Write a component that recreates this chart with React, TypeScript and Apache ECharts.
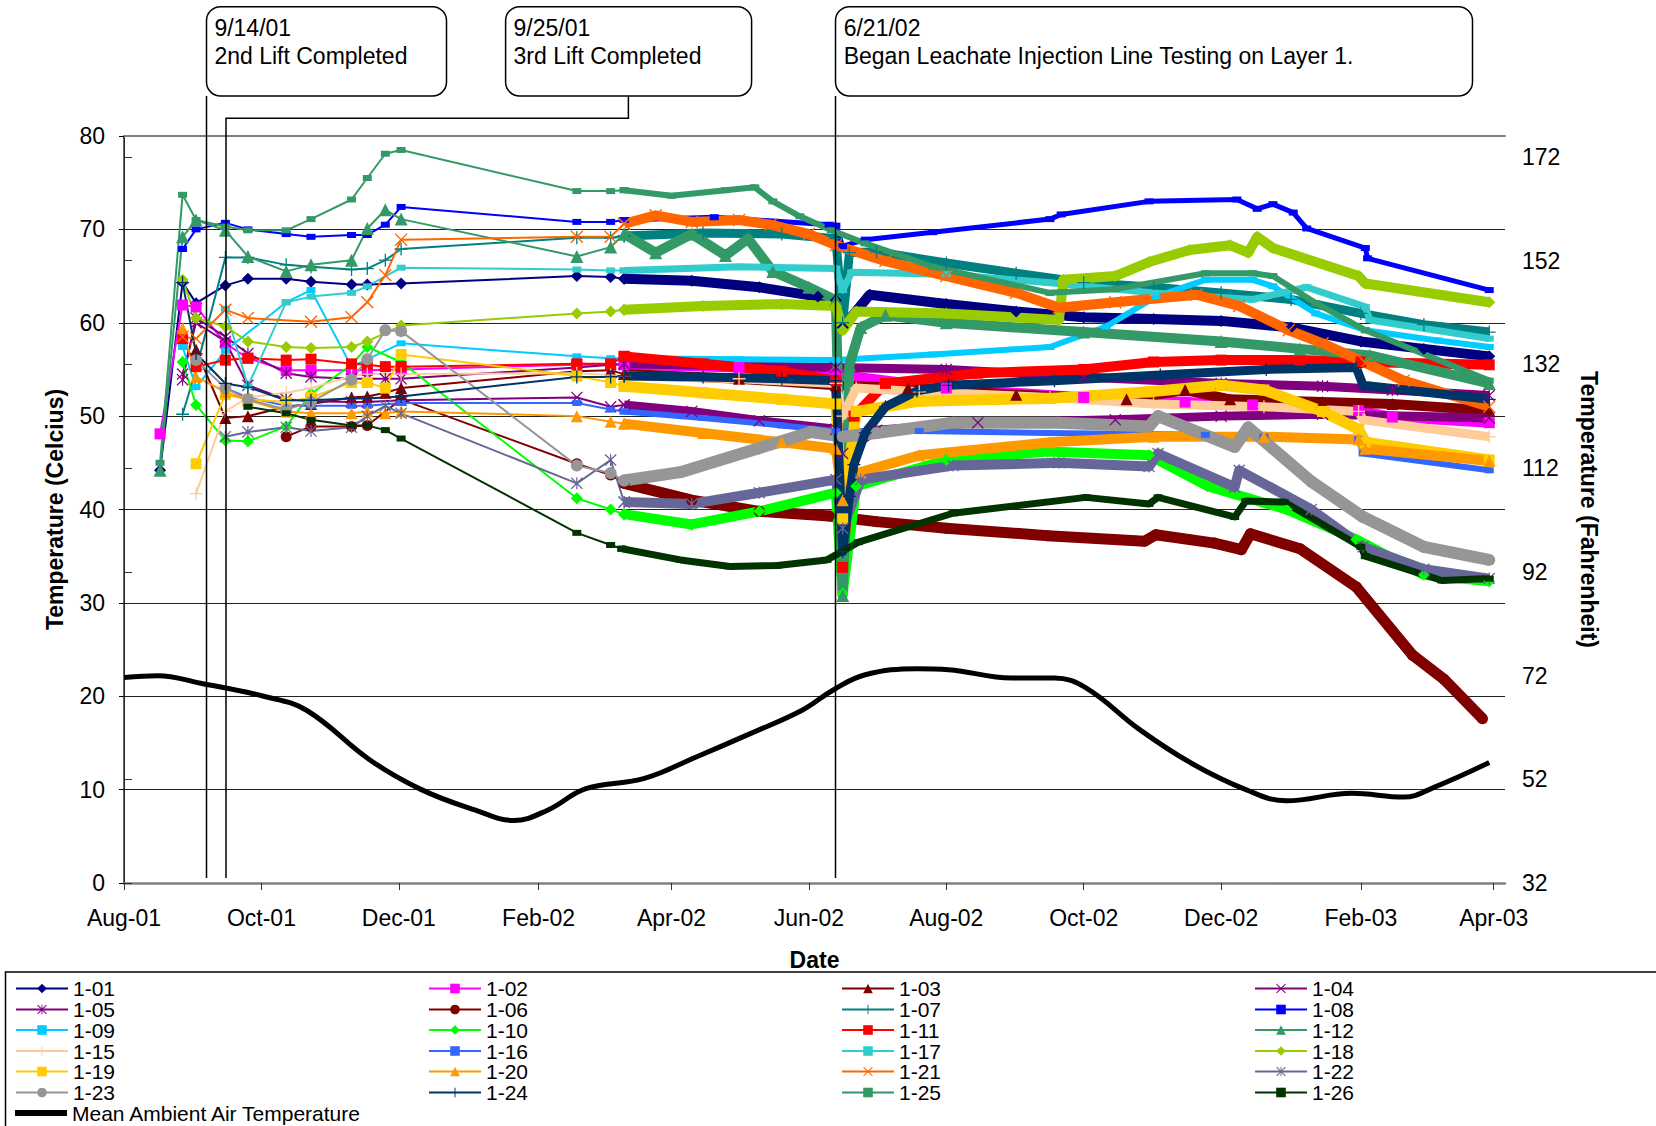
import React, { useEffect, useRef } from 'react';
import * as echarts from 'echarts';

const START = '2001-08-01';
const tickDates = ['2001-08-01', '2001-10-01', '2001-12-01', '2002-02-01', '2002-04-01', '2002-06-01', '2002-08-01', '2002-10-01', '2002-12-01', '2003-02-01', '2003-04-01'];
const tickLabels = ['Aug-01', 'Oct-01', 'Dec-01', 'Feb-02', 'Apr-02', 'Jun-02', 'Aug-02', 'Oct-02', 'Dec-02', 'Feb-03', 'Apr-03'];
const fahrenheitTicks = [32, 52, 72, 92, 112, 132, 152, 172];

// dates of the early (sparse) readings
const earlyDates = ['2001-08-17', '2001-08-27', '2001-09-02', '2001-09-15', '2001-09-25', '2001-10-12', '2001-10-23', '2001-11-10', '2001-11-17', '2001-11-25', '2001-12-02', '2002-02-18', '2002-03-05'];

const e101 = [44.2, 64.3, 62.1, 64.0, 64.7, 64.7, 64.4, 64.1, 64.1, null, 64.2, 65.0, 64.9];
const e102 = [48.1, 61.9, 61.7, 57.8, 56.2, 54.9, 54.9, 54.9, 54.9, null, 55.0, 55.5, 55.5];
const e103 = [null, null, 57.1, 49.8, 50.0, 51.0, 51.3, 52.0, 52.1, 52.5, 53.0, 54.8, 54.9];
const e104 = [null, 54.5, 60.0, 58.0, 53.3, 51.8, 51.6, 51.5, 51.5, null, 51.7, 52.0, 51.0];
const e105 = [null, 53.9, 60.5, 58.5, 56.7, 54.6, 54.2, 54.0, 54.0, 54.0, 54.0, 55.2, 55.5];
const e106 = [null, null, null, null, null, 47.8, 48.9, 48.9, 49.0, null, 51.8, 44.9, 43.7];
const e107 = [null, 50.2, 55.0, 67.0, 67.0, 66.2, 66.0, 65.7, 65.8, 66.7, 67.9, 69.1, 69.1];
const e108 = [null, 67.9, 70.0, 70.7, 70.0, 69.5, 69.2, 69.4, 69.4, 70.5, 72.4, 70.8, 70.8];
const e109 = [null, 57.4, 53.1, 57.0, null, 62.2, 63.5, 55.3, null, null, 57.8, 56.4, 56.2];
const e110 = [null, 55.8, 51.2, 47.4, 47.3, 48.9, 52.4, 55.5, 57.4, null, 55.8, 41.2, 40.0];
const e111 = [null, 58.3, 55.3, 56.0, 56.2, 56.0, 56.1, 55.6, 55.5, 55.3, 55.3, 55.6, 55.6];
const e112 = [44.2, 69.2, 71.0, 69.9, 67.1, 65.5, 66.2, 66.7, 70.1, 72.1, 71.1, 67.1, 68.1];
const e115 = [null, null, 41.7, 50.5, 52.0, 52.5, 53.0, 54.3, 54.5, null, 54.5, 54.6, 54.4];
const e116 = [null, null, null, 53.0, 52.0, 51.1, 51.1, 51.1, 51.1, null, 51.4, 51.4, 50.7];
const e117 = [null, null, null, 61.5, 53.2, 62.2, 62.8, 63.2, 63.9, null, 65.9, 65.7, 65.6];
const e118 = [null, 64.6, 60.5, 59.6, 58.0, 57.4, 57.3, 57.4, 58.0, null, 59.7, 61.0, 61.2];
const e119 = [null, null, 44.9, 52.3, 51.8, 51.5, 52.0, 53.6, 53.6, 53.0, 56.6, 54.3, 53.6];
const e120 = [null, 59.4, 54.2, 52.6, 51.7, 50.5, 50.3, 50.3, 50.5, 50.3, 50.5, 50.0, 49.4];
const e121 = [null, 58.5, 58.3, 61.4, 60.5, null, 60.1, 60.6, 62.2, 65.1, 68.9, 69.2, 69.2];
const e122 = [null, null, null, 47.8, 48.3, 48.8, 48.4, 48.8, 50.0, 51.1, 50.3, 42.8, 45.3];
const e123 = [null, null, 56.0, 53.0, 51.8, 50.7, 51.5, 53.9, 56.1, 59.2, 59.1, 44.7, 43.9];
const e124 = [null, 64.3, 56.7, 53.5, 53.1, 51.7, 51.7, 51.9, 51.9, null, 52.1, 54.2, 54.2];
const e125 = [45.0, 73.7, 71.0, 70.3, 69.9, 69.9, 71.1, 73.2, 75.5, 78.1, 78.5, 74.1, 74.1];
const e126 = [null, null, null, null, 51.0, 50.3, 49.6, 49.0, 49.0, 48.5, 47.6, 37.5, 36.2];

// continuous logger period (key readings)
const d101 = [['2002-03-11', 64.7], ['2002-04-10', 64.5], ['2002-05-10', 63.8], ['2002-06-05', 62.8], ['2002-06-13', 62.4], ['2002-06-16', 59.5], ['2002-06-28', 63.0], ['2002-08-01', 62.0], ['2002-09-01', 61.2], ['2002-10-01', 60.6], ['2002-11-01', 60.4], ['2002-12-01', 60.2], ['2003-01-01', 59.5], ['2003-02-01', 58.0], ['2003-03-01', 57.2], ['2003-03-30', 56.4]];
const d102 = [['2002-03-11', 55.5], ['2002-05-01', 55.2], ['2002-06-13', 54.5], ['2002-08-01', 53.0], ['2002-10-01', 52.0], ['2002-11-15', 51.5], ['2002-12-15', 51.2], ['2003-01-31', 50.6], ['2003-02-15', 49.9], ['2003-03-30', 49.3]];
const d103 = [['2002-03-11', 54.5], ['2002-05-01', 54.0], ['2002-06-13', 53.3], ['2002-07-15', 53.0], ['2002-09-01', 52.3], ['2002-10-20', 51.8], ['2002-11-15', 52.8], ['2002-12-05', 51.8], ['2003-01-15', 51.5], ['2003-02-15', 51.3], ['2003-03-30', 50.6]];
const d104 = [['2002-03-11', 51.2], ['2002-04-10', 50.5], ['2002-05-10', 49.5], ['2002-06-13', 48.6], ['2002-06-16', 46.0], ['2002-07-01', 48.5], ['2002-08-15', 49.3], ['2002-10-15', 49.6], ['2002-12-01', 50.0], ['2003-01-15', 50.2], ['2003-03-30', 49.8]];
const d105 = [['2002-03-11', 55.6], ['2002-06-13', 55.2], ['2002-08-01', 55.0], ['2002-10-01', 54.2], ['2002-12-01', 53.5], ['2003-01-15', 53.2], ['2003-02-15', 52.8], ['2003-03-30', 52.2]];
const d106 = [['2002-03-11', 42.8], ['2002-04-10', 41.0], ['2002-05-10', 39.8], ['2002-06-10', 39.3], ['2002-07-01', 38.7], ['2002-08-01', 38.0], ['2002-09-15', 37.2], ['2002-10-28', 36.6], ['2002-11-02', 37.3], ['2002-11-28', 36.4], ['2002-12-10', 35.7], ['2002-12-14', 37.4], ['2003-01-05', 35.8], ['2003-01-30', 31.7], ['2003-02-24', 24.4], ['2003-03-10', 21.8], ['2003-03-27', 17.6]];
const d107 = [['2002-03-11', 69.3], ['2002-04-15', 69.6], ['2002-05-20', 69.5], ['2002-06-13', 69.0], ['2002-06-16', 60.0], ['2002-06-19', 67.5], ['2002-07-01', 67.6], ['2002-08-01', 66.4], ['2002-09-01', 65.3], ['2002-10-01', 64.3], ['2002-11-01', 63.8], ['2002-12-01', 63.2], ['2003-01-01', 62.5], ['2003-02-01', 61.0], ['2003-03-01', 59.8], ['2003-03-30', 59.0]];
const d108 = [['2002-03-11', 71.0], ['2002-04-20', 71.3], ['2002-06-10', 70.5], ['2002-06-13', 70.4], ['2002-06-16', 68.2], ['2002-06-26', 68.9], ['2002-07-26', 69.7], ['2002-09-16', 71.1], ['2002-09-21', 71.6], ['2002-10-30', 73.0], ['2002-12-08', 73.2], ['2002-12-17', 72.2], ['2002-12-24', 72.7], ['2003-01-02', 71.8], ['2003-01-08', 70.1], ['2003-02-03', 68.0], ['2003-02-04', 66.9], ['2003-03-30', 63.5]];
const d109 = [['2002-03-11', 56.2], ['2002-05-01', 56.1], ['2002-06-13', 56.0], ['2002-07-26', 56.6], ['2002-09-16', 57.4], ['2002-10-11', 59.6], ['2002-11-02', 62.8], ['2002-11-24', 64.6], ['2002-12-15', 64.6], ['2002-12-24', 63.9], ['2003-01-12', 61.0], ['2003-02-03', 59.2], ['2003-03-07', 58.1], ['2003-03-30', 57.4]];
const d110 = [['2002-03-11', 39.5], ['2002-04-10', 38.4], ['2002-05-10', 39.8], ['2002-06-13', 41.8], ['2002-06-16', 31.0], ['2002-06-22', 42.5], ['2002-08-01', 45.3], ['2002-09-15', 46.2], ['2002-10-30', 45.8], ['2002-11-25', 42.5], ['2002-12-30', 40.0], ['2003-01-30', 36.8], ['2003-03-01', 33.0], ['2003-03-30', 32.3]];
const d111 = [['2002-03-11', 56.4], ['2002-04-15', 55.6], ['2002-05-20', 54.8], ['2002-06-13', 53.8], ['2002-06-16', 33.8], ['2002-06-21', 50.0], ['2002-07-05', 53.5], ['2002-08-15', 54.6], ['2002-10-01', 55.0], ['2002-11-01', 55.8], ['2002-12-01', 56.0], ['2003-01-05', 56.0], ['2003-02-01', 55.8], ['2003-03-30', 55.5]];
const d112 = [['2002-03-11', 69.5], ['2002-03-25', 67.5], ['2002-04-10', 69.5], ['2002-04-25', 67.2], ['2002-05-05', 69.0], ['2002-05-16', 65.5], ['2002-06-01', 63.8], ['2002-06-13', 62.4], ['2002-06-16', 30.8], ['2002-06-19', 55.5], ['2002-06-24', 59.5], ['2002-07-05', 60.8], ['2002-08-01', 60.0], ['2002-10-01', 59.0], ['2002-12-01', 58.0], ['2003-01-05', 57.2], ['2003-02-05', 56.5], ['2003-03-30', 53.5]];
const d115 = [['2002-03-11', 54.3], ['2002-05-01', 54.0], ['2002-06-13', 53.5], ['2002-06-16', 50.0], ['2002-06-22', 53.0], ['2002-07-20', 52.6], ['2002-09-16', 52.0], ['2002-11-01', 51.3], ['2002-12-20', 51.0], ['2003-01-31', 50.5], ['2003-02-02', 49.6], ['2003-03-30', 47.8]];
const d116 = [['2002-03-11', 50.5], ['2002-04-15', 49.8], ['2002-05-20', 49.0], ['2002-06-13', 48.4], ['2002-07-20', 48.4], ['2002-09-15', 48.2], ['2002-11-24', 48.0], ['2002-12-20', 47.8], ['2003-01-31', 47.5], ['2003-02-02', 46.0], ['2003-03-30', 44.2]];
const d117 = [['2002-03-11', 65.6], ['2002-05-01', 66.0], ['2002-06-13', 65.8], ['2002-06-16', 63.5], ['2002-06-20', 65.4], ['2002-08-01', 65.2], ['2002-09-15', 64.3], ['2002-11-01', 63.2], ['2002-12-15', 62.5], ['2003-01-08', 63.8], ['2003-02-03', 61.7], ['2003-02-05', 60.3], ['2003-03-30', 58.3]];
const d118 = [['2002-03-11', 61.4], ['2002-04-15', 61.8], ['2002-05-20', 62.0], ['2002-06-13', 61.8], ['2002-06-16', 59.2], ['2002-06-22', 61.2], ['2002-08-01', 61.0], ['2002-09-20', 60.3], ['2002-09-22', 64.6], ['2002-10-15', 65.0], ['2002-10-30', 66.5], ['2002-11-17', 67.8], ['2002-12-05', 68.3], ['2002-12-13', 67.5], ['2002-12-17', 69.2], ['2002-12-24', 68.0], ['2003-01-31', 65.0], ['2003-02-03', 64.2], ['2003-03-30', 62.2]];
const d119 = [['2002-03-11', 53.2], ['2002-04-15', 52.5], ['2002-05-20', 51.8], ['2002-06-13', 51.3], ['2002-06-16', 39.0], ['2002-06-22', 50.5], ['2002-07-20', 51.6], ['2002-09-16', 51.9], ['2002-10-30', 52.6], ['2002-12-01', 53.3], ['2002-12-20', 52.8], ['2003-01-15', 50.5], ['2003-01-31', 48.6], ['2003-02-03', 47.2], ['2003-03-30', 45.3]];
const d120 = [['2002-03-11', 49.2], ['2002-04-15', 48.2], ['2002-05-20', 47.2], ['2002-06-13', 46.5], ['2002-06-16', 41.0], ['2002-06-24', 44.0], ['2002-07-20', 45.8], ['2002-09-16', 47.2], ['2002-11-01', 47.8], ['2002-12-20', 47.8], ['2003-01-31', 47.5], ['2003-02-03', 46.5], ['2003-03-30', 45.2]];
const d121 = [['2002-03-11', 70.6], ['2002-03-25', 71.5], ['2002-04-10', 70.8], ['2002-05-01', 71.0], ['2002-05-15', 70.5], ['2002-06-01', 69.5], ['2002-06-13', 68.3], ['2002-07-05', 66.6], ['2002-08-01', 65.0], ['2002-09-01', 63.2], ['2002-09-20', 61.6], ['2002-10-15', 62.2], ['2002-11-20', 63.0], ['2002-12-09', 61.8], ['2002-12-31', 59.2], ['2003-01-15', 57.8], ['2003-02-03', 55.7], ['2003-02-20', 53.8], ['2003-03-30', 51.0]];
const d122 = [['2002-03-11', 40.8], ['2002-04-10', 40.6], ['2002-05-10', 41.8], ['2002-06-13', 43.2], ['2002-06-16', 38.0], ['2002-06-24', 43.2], ['2002-08-04', 44.7], ['2002-09-20', 45.0], ['2002-10-30', 44.6], ['2002-11-03', 46.0], ['2002-12-07', 42.4], ['2002-12-09', 44.2], ['2003-01-10', 40.0], ['2003-02-02', 36.0], ['2003-03-01', 33.6], ['2003-03-30', 32.6]];
const d123 = [['2002-03-11', 43.1], ['2002-04-05', 44.0], ['2002-05-09', 46.5], ['2002-06-02', 48.3], ['2002-06-16', 47.8], ['2002-07-01', 48.2], ['2002-08-04', 49.3], ['2002-09-20', 49.3], ['2002-10-30', 48.9], ['2002-11-03', 50.0], ['2002-12-07', 46.7], ['2002-12-13', 48.8], ['2003-01-10', 43.0], ['2003-02-02', 39.2], ['2003-03-01', 36.0], ['2003-03-30', 34.6]];
const d124 = [['2002-03-11', 54.3], ['2002-04-15', 54.2], ['2002-05-20', 54.0], ['2002-06-13', 53.8], ['2002-06-16', 35.5], ['2002-06-19', 41.4], ['2002-06-21', 44.8], ['2002-06-26', 48.2], ['2002-07-05', 51.0], ['2002-07-19', 52.7], ['2002-08-02', 53.3], ['2002-09-18', 53.8], ['2002-11-04', 54.4], ['2002-12-21', 55.0], ['2003-01-30', 55.2], ['2003-02-02', 53.3], ['2003-03-30', 51.8]];
const d125 = [['2002-03-11', 74.2], ['2002-04-01', 73.6], ['2002-04-25', 74.2], ['2002-05-08', 74.5], ['2002-05-16', 73.0], ['2002-05-28', 71.4], ['2002-06-11', 69.9], ['2002-06-26', 68.5], ['2002-07-26', 66.0], ['2002-09-16', 63.2], ['2002-10-15', 63.6], ['2002-11-24', 65.3], ['2002-12-15', 65.3], ['2002-12-24', 65.0], ['2003-01-12', 62.1], ['2003-02-03', 59.2], ['2003-03-30', 53.8]];
const d126 = [['2002-03-10', 35.8], ['2002-04-05', 34.6], ['2002-04-27', 33.9], ['2002-05-18', 34.0], ['2002-06-09', 34.6], ['2002-06-23', 36.5], ['2002-08-04', 39.6], ['2002-10-02', 41.3], ['2002-10-30', 40.6], ['2002-11-03', 41.3], ['2002-12-07', 39.2], ['2002-12-12', 40.9], ['2002-12-29', 40.8], ['2003-02-01', 36.0], ['2003-02-03', 35.0], ['2003-03-09', 32.4], ['2003-03-30', 32.6]];

const ambient = [['2001-08-01', 22.0], ['2001-08-16', 22.2], ['2001-09-04', 21.4], ['2001-10-02', 20.0], ['2001-10-21', 18.5], ['2001-11-18', 13.2], ['2001-12-11', 10.0], ['2002-01-04', 7.8], ['2002-01-21', 6.7], ['2002-02-05', 7.8], ['2002-02-22', 10.1], ['2002-03-20', 11.2], ['2002-04-12', 13.5], ['2002-05-06', 16.0], ['2002-05-29', 18.5], ['2002-06-12', 20.7], ['2002-06-26', 22.3], ['2002-07-19', 22.95], ['2002-08-02', 22.85], ['2002-08-30', 21.95], ['2002-09-18', 21.95], ['2002-10-02', 20.9], ['2002-10-26', 16.4], ['2002-11-18', 12.8], ['2002-12-12', 10.0], ['2002-12-30', 8.8], ['2003-01-28', 9.6], ['2003-02-20', 9.2], ['2003-03-06', 10.3], ['2003-03-30', 12.9]];

const SYM_X = 'path://M1.5,0L10,8.5L18.5,0L20,1.5L11.5,10L20,18.5L18.5,20L10,11.5L1.5,20L0,18.5L8.5,10L0,1.5Z';
const SYM_AST = 'path://M1.5,0L10,8.5L18.5,0L20,1.5L11.5,10L20,18.5L18.5,20L10,11.5L1.5,20L0,18.5L8.5,10L0,1.5ZM9,0H11V20H9Z';
const SYM_PLUS = 'path://M9,0H11V9H20V11H11V20H9V11H0V9H9Z';
const DASH = [9, 6];

const sensors = [
  { name: '1-01', color: '#000080', symbol: 'diamond', size: 12, band: 10, early: e101, dense: d101 },
  { name: '1-02', color: '#FF00FF', symbol: 'rect', size: 11, band: 10, early: e102, dense: d102 },
  { name: '1-03', color: '#800000', symbol: 'triangle', size: 12, band: 10, early: e103, dense: d103 },
  { name: '1-04', color: '#800080', symbol: SYM_X, size: 12, band: 9, early: e104, dense: d104 },
  { name: '1-05', color: '#800080', symbol: SYM_AST, size: 12, band: 9, early: e105, dense: d105 },
  { name: '1-06', color: '#800000', symbol: 'circle', size: 11, band: 11, early: e106, dense: d106 },
  { name: '1-07', color: '#008080', symbol: SYM_PLUS, size: 13, band: 9, early: e107, dense: d107 },
  { name: '1-08', color: '#0000FF', symbol: 'rect', size: DASH, band: 5, early: e108, dense: d108 },
  { name: '1-09', color: '#00CCFF', symbol: 'rect', size: DASH, band: 6, early: e109, dense: d109 },
  { name: '1-10', color: '#00FF00', symbol: 'diamond', size: 12, band: 10, early: e110, dense: d110 },
  { name: '1-11', color: '#FF0000', symbol: 'rect', size: 11, band: 10, early: e111, dense: d111 },
  { name: '1-12', color: '#339966', symbol: 'triangle', size: 13, band: 10, early: e112, dense: d112 },
  { name: '1-15', color: '#FFCC99', symbol: SYM_PLUS, size: 13, band: 9, early: e115, dense: d115 },
  { name: '1-16', color: '#3366FF', symbol: 'rect', size: DASH, band: 6, early: e116, dense: d116 },
  { name: '1-17', color: '#33CCCC', symbol: 'rect', size: DASH, band: 7, early: e117, dense: d117 },
  { name: '1-18', color: '#99CC00', symbol: 'diamond', size: 12, band: 10, early: e118, dense: d118 },
  { name: '1-19', color: '#FFCC00', symbol: 'rect', size: 11, band: 11, early: e119, dense: d119 },
  { name: '1-20', color: '#FF9900', symbol: 'triangle', size: 12, band: 10, early: e120, dense: d120 },
  { name: '1-21', color: '#FF6600', symbol: SYM_X, size: 13, band: 10, early: e121, dense: d121 },
  { name: '1-22', color: '#666699', symbol: SYM_AST, size: 12, band: 10, early: e122, dense: d122 },
  { name: '1-23', color: '#969696', symbol: 'circle', size: 12, band: 12, early: e123, dense: d123 },
  { name: '1-24', color: '#003366', symbol: SYM_PLUS, size: 13, band: 9, early: e124, dense: d124 },
  { name: '1-25', color: '#339966', symbol: 'rect', size: DASH, band: 6, early: e125, dense: d125 },
  { name: '1-26', color: '#003300', symbol: 'rect', size: DASH, band: 7, early: e126, dense: d126 },
];

const AMBIENT_NAME = 'Mean Ambient Air Temperature';
const FONT = '"Liberation Sans", Arial, Helvetica, sans-serif';

const dayOf = (s: string) => (Date.parse(s) - Date.parse(START)) / 86400000;
const tickDays = tickDates.map(dayOf);

function buildOption() {
  const series: any[] = [];
  sensors.forEach((s) => {
    const sparse: any[] = [];
    earlyDates.forEach((d, i) => {
      const v = s.early[i];
      if (v != null) sparse.push([dayOf(d), v]);
    });
    sparse.push([dayOf(s.dense[0][0] as string), s.dense[0][1]]);
    series.push({
      type: 'line', name: s.name, data: sparse,
      symbol: s.symbol, symbolSize: s.size, showAllSymbol: true,
      lineStyle: { color: s.color, width: 2 }, itemStyle: { color: s.color },
    });
    series.push({
      type: 'line', name: s.name,
      data: s.dense.map(([d, v]) => [dayOf(d as string), v]),
      symbol: s.symbol, symbolSize: s.size, showAllSymbol: true,
      lineStyle: { color: s.color, width: s.band, join: 'round' }, itemStyle: { color: s.color },
    });
  });
  series.push({
    type: 'line', name: AMBIENT_NAME,
    data: ambient.map(([d, v]) => [dayOf(d as string), v]),
    smooth: 0.4, symbol: 'none',
    lineStyle: { color: '#000', width: 5 }, itemStyle: { color: '#000' },
  });

  const gridColors = ['#808080', '#222', '#222', '#222', '#222', '#222', '#222', '#222', '#808080'];

  const line = (x1: number, y1: number, x2: number, y2: number) => ({
    type: 'line', z: 100, shape: { x1, y1, x2, y2 }, style: { stroke: '#000', lineWidth: 1.5 },
  });
  const box = (x: number, w: number) => ({
    type: 'rect', z: 100, shape: { x, y: 6.7, width: w, height: 89.3, r: 14 },
    style: { fill: '#fff', stroke: '#000', lineWidth: 1.5 },
  });
  const txt = (x: number, y: number, text: string) => ({
    type: 'text', z: 101,
    style: { x, y, text, fill: '#000', fontSize: 23, fontFamily: FONT, verticalAlign: 'middle', align: 'left' },
  });

  // legend: one legend component per cell of a 4-column grid
  const rowTops = [978, 999, 1019.5, 1040.5, 1061, 1082];
  const colLefts = [15, 428, 841, 1254];
  const legendCell = (left: number, top: number) => ({
    left, top, padding: 0, itemGap: 0, itemWidth: 52, itemHeight: 12,
    textStyle: { fontFamily: FONT, fontSize: 21, color: '#000' },
    selectedMode: false,
  });
  const legends: any[] = sensors.map((s, i) => ({
    ...legendCell(colLefts[i % 4], rowTops[Math.floor(i / 4)]),
    data: [s.name],
  }));
  legends.push({
    ...legendCell(colLefts[0], 1102.5), itemHeight: 6,
    data: [{ name: AMBIENT_NAME, icon: 'rect', itemStyle: { color: '#000' } }],
  });

  return {
    animation: false,
    backgroundColor: '#fff',
    grid: { left: 124, right: 151, top: 136, bottom: 243, containLabel: false },
    xAxis: [
      {
        type: 'value', min: 0, max: 613, interval: 60.8,
        name: 'Date', nameLocation: 'middle', nameGap: 65,
        nameTextStyle: { fontFamily: FONT, fontSize: 23, fontWeight: 'bold', color: '#000' },
        axisLine: { show: true, lineStyle: { color: '#808080', width: 2.5 } },
        axisTick: { show: true, length: 7, customValues: tickDays, lineStyle: { color: '#333' } },
        axisLabel: {
          customValues: tickDays, margin: 23, color: '#000', fontSize: 23, fontFamily: FONT,
          formatter: (v: number) => {
            const i = tickDays.findIndex((t) => Math.abs(t - v) < 3);
            return i >= 0 ? tickLabels[i] : '';
          },
        },
        splitLine: { show: false },
      },
      {
        type: 'value', min: 0, max: 613, position: 'top',
        axisLine: { show: true, lineStyle: { color: '#808080', width: 2 } },
        axisTick: { show: false }, axisLabel: { show: false }, splitLine: { show: false },
      },
    ],
    yAxis: [
      {
        type: 'value', min: 0, max: 80, interval: 10, position: 'left',
        name: 'Temperature (Celcius)', nameLocation: 'middle', nameGap: 58, nameRotate: 90,
        nameTextStyle: { fontFamily: FONT, fontSize: 23, fontWeight: 'bold', color: '#000' },
        axisLine: { show: true, lineStyle: { color: '#000', width: 1 } },
        axisTick: { show: true, length: 5, lineStyle: { color: '#000' } },
        axisLabel: { margin: 19, color: '#000', fontSize: 23, fontFamily: FONT },
        splitLine: { show: true, lineStyle: { color: gridColors, width: 1 } },
      },
      {
        type: 'value', min: 32, max: 176, interval: 20, position: 'right',
        name: 'Temperature (Fahrenheit)', nameLocation: 'middle', nameGap: 72, nameRotate: -90,
        nameTextStyle: { fontFamily: FONT, fontSize: 23, fontWeight: 'bold', color: '#000' },
        axisLine: { show: true, lineStyle: { color: '#333', width: 1.5 } },
        axisTick: { show: true, length: 8, customValues: fahrenheitTicks, lineStyle: { color: '#333' } },
        axisLabel: { customValues: fahrenheitTicks, margin: 17, color: '#000', fontSize: 23, fontFamily: FONT },
        splitLine: { show: false },
      },
    ],
    legend: legends,
    graphic: [
      { type: 'rect', z: 90, shape: { x: 5.5, y: 972, width: 1700, height: 300 }, style: { fill: 'none', stroke: '#000', lineWidth: 1.5 } },
      line(206.5, 96, 206.5, 878),
      { type: 'polyline', z: 100, shape: { points: [[628.4, 96], [628.4, 118.3], [226, 118.3], [226, 878]] }, style: { stroke: '#000', lineWidth: 1.5, fill: null } },
      line(835.5, 96, 835.5, 878),
      box(206.5, 240), txt(214.4, 27.5, '9/14/01'), txt(214.4, 56, '2nd Lift Completed'),
      box(505.6, 246), txt(513.5, 27.5, '9/25/01'), txt(513.5, 56, '3rd Lift Completed'),
      box(835.5, 637), txt(843.7, 27.5, '6/21/02'), txt(843.7, 56, 'Began Leachate Injection Line Testing on Layer 1.'),
    ],
    series,
  };
}

export default function App() {
  const ref = useRef<HTMLDivElement>(null);
  useEffect(() => {
    if (!ref.current) return;
    const chart = echarts.init(ref.current, undefined, { renderer: 'svg' });
    chart.setOption(buildOption() as any);
    return () => chart.dispose();
  }, []);
  return <div ref={ref} style={{ position: 'absolute', left: 0, top: 0, width: 1656, height: 1126 }} />;
}
